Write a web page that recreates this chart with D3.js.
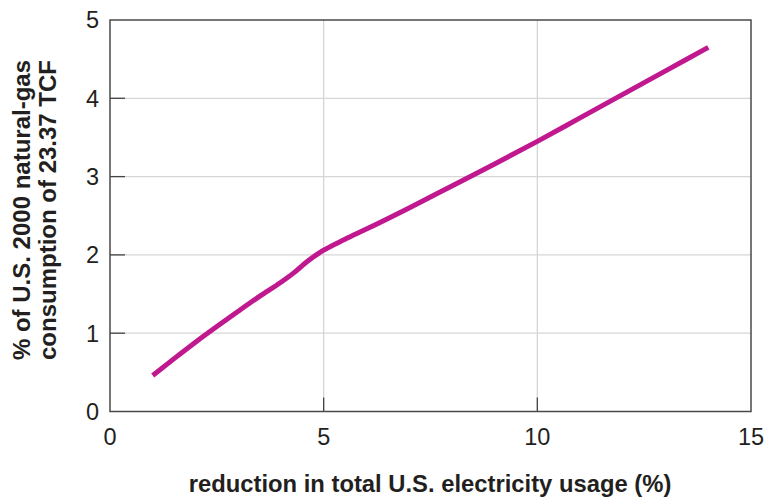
<!DOCTYPE html>
<html>
<head>
<meta charset="utf-8">
<script src="https://cdn.jsdelivr.net/npm/d3@7"></script>
<style>
  html, body { margin: 0; padding: 0; background: #fff; }
  svg { display: block; font-family: "Liberation Sans", Arial, Helvetica, sans-serif; }
</style>
</head>
<body>
<svg id="chart" width="765" height="497"></svg>
<script>
const xValues = [1, 1.5, 2, 2.5, 3, 3.5, 4, 4.3, 4.6, 5, 5.5, 6, 7, 8, 9, 10, 11, 12, 13, 14];
const yValues = [0.46, 0.675, 0.885, 1.085, 1.28, 1.47, 1.65, 1.77, 1.91, 2.06, 2.20, 2.33, 2.60, 2.88, 3.16, 3.45, 3.75, 4.05, 4.35, 4.65];
const xTicks = [0, 5, 10, 15];
const yTicks = [0, 1, 2, 3, 4, 5];
const xTitle = "reduction in total U.S. electricity usage (%)";
const yTitleLines = ["% of U.S. 2000 natural-gas", "consumption of 23.37 TCF"];

(function () {
const svg = d3.select("#chart");
const pL = 110, pR = 751, pT = 20, pB = 411.5;

const x = d3.scaleLinear().domain([0, 15]).range([pL, pR]);
const y = d3.scaleLinear().domain([0, 5]).range([pB, pT]);

// grid lines
svg.append("g").selectAll("line")
  .data(xTicks.filter(d => d > 0 && d < 15))
  .join("line")
  .attr("x1", d => x(d)).attr("x2", d => x(d))
  .attr("y1", pT).attr("y2", pB)
  .attr("stroke", "#d6d6d6").attr("stroke-width", 1.3);

svg.append("g").selectAll("line")
  .data(yTicks.filter(d => d > 0 && d < 5))
  .join("line")
  .attr("x1", pL).attr("x2", pR)
  .attr("y1", d => y(d)).attr("y2", d => y(d))
  .attr("stroke", "#d6d6d6").attr("stroke-width", 1.3);

// inward ticks
svg.append("g").selectAll("line")
  .data(yTicks.filter(d => d > 0 && d < 5))
  .join("line")
  .attr("x1", pL).attr("x2", pL + 15)
  .attr("y1", d => y(d)).attr("y2", d => y(d))
  .attr("stroke", "#444").attr("stroke-width", 1.3);

svg.append("g").selectAll("line")
  .data(xTicks.filter(d => d > 0 && d < 15))
  .join("line")
  .attr("x1", d => x(d)).attr("x2", d => x(d))
  .attr("y1", pB).attr("y2", pB - 14)
  .attr("stroke", "#444").attr("stroke-width", 1.3);

// frame
svg.append("rect")
  .attr("x", pL).attr("y", pT)
  .attr("width", pR - pL).attr("height", pB - pT)
  .attr("fill", "none").attr("stroke", "#4a4a4a").attr("stroke-width", 1.5);

// tick labels
svg.append("g").selectAll("text")
  .data(yTicks)
  .join("text")
  .attr("x", 99).attr("y", d => y(d))
  .attr("dy", "0.36em")
  .attr("text-anchor", "end")
  .attr("font-size", 23.5)
  .attr("fill", "#231f20")
  .text(d => d);

svg.append("g").selectAll("text")
  .data(xTicks)
  .join("text")
  .attr("x", d => x(d)).attr("y", 445)
  .attr("text-anchor", "middle")
  .attr("font-size", 23.5)
  .attr("fill", "#231f20")
  .text(d => d);

// line
const data = xValues.map((d, i) => [d, yValues[i]]);
svg.append("path")
  .datum(data)
  .attr("d", d3.line().x(d => x(d[0])).y(d => y(d[1])).curve(d3.curveMonotoneX))
  .attr("fill", "none")
  .attr("stroke", "#c0198f")
  .attr("stroke-width", 5);

// axis titles
svg.append("text")
  .attr("x", 430).attr("y", 492)
  .attr("text-anchor", "middle")
  .attr("font-size", 23.8)
  .attr("font-weight", "bold")
  .attr("fill", "#231f20")
  .text(xTitle);

const yt = svg.append("text")
  .attr("transform", "translate(30,210) rotate(-90)")
  .attr("text-anchor", "middle")
  .attr("font-size", 24)
  .attr("font-weight", "bold")
  .attr("fill", "#231f20");
yTitleLines.forEach((t, i) => {
  yt.append("tspan").attr("x", 0).attr("y", i * 26).text(t);
});
})();
</script>
</body>
</html>
